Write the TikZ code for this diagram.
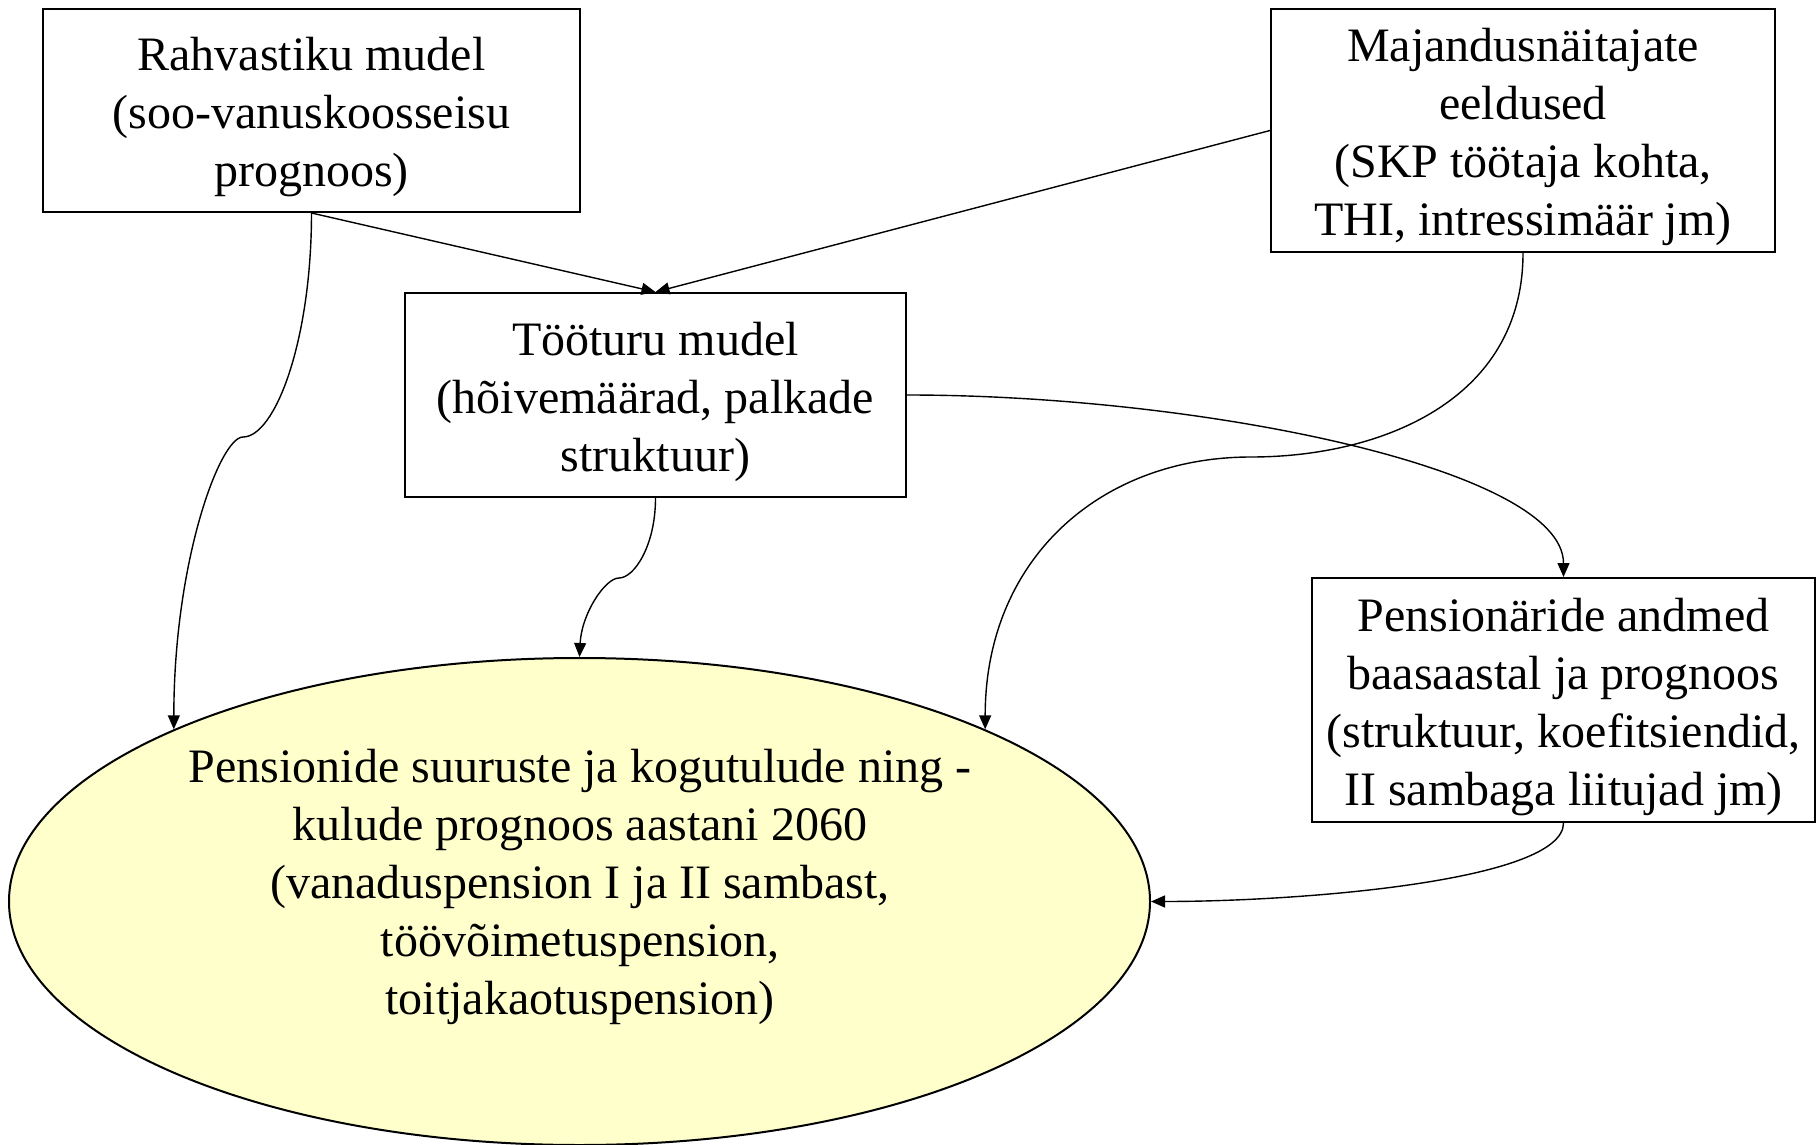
\documentclass[tikz,border=0pt]{standalone}
\usepackage{fontspec}
\setmainfont{Liberation Serif}
\usetikzlibrary{arrows.meta,shapes.geometric}
\definecolor{paleyellow}{RGB}{255,255,204}
\newcommand{\topstrut}{\rule{0pt}{23.5pt}}

\begin{document}
\begin{tikzpicture}[x=.5pt, y=-.5pt, line cap=round,
  box/.style={draw, line width=1pt, align=center, inner sep=0pt,
    font=\fontsize{24}{29}\selectfont},
  link/.style={-{Triangle[length=7pt,width=6pt]}, line width=.7pt}]

\useasboundingbox (0,0) rectangle (1816,1145);

% --- input models ---
\node[box, minimum width=268.5pt, minimum height=101.5pt] (rahv) at (311.5,110.5)
  {\topstrut Rahvastiku mudel\\(soo-vanuskoosseisu\\prognoos)};
\node[box, minimum width=252pt, minimum height=121.5pt] (maj) at (1523,130.5)
  {\topstrut Majandusnäitajate\\eeldused\\(SKP töötaja kohta,\\THI, intressimäär jm)};
\node[box, minimum width=250.5pt, minimum height=102pt] (too) at (655.5,395)
  {\topstrut Tööturu mudel\\(hõivemäärad, palkade\\struktuur)};
\node[box, minimum width=251.5pt, minimum height=122pt] (pensd) at (1563.5,700)
  {\topstrut Pensionäride andmed\\baasaastal ja prognoos\\(struktuur, koefitsiendid,\\II sambaga liitujad jm)};

% --- result ---
\node[draw, ellipse, line width=1pt, fill=paleyellow, inner sep=0pt,
  minimum width=570.5pt, minimum height=243.5pt] (pens) at (579.5,901.5) {};
\node[align=center, font=\fontsize{24}{29}\selectfont] (penstext) at (580,887)
  {Pensionide suuruste ja kogutulude ning -\\kulude prognoos aastani 2060\\(vanaduspension I ja II sambast,\\töövõimetuspension,\\toitjakaotuspension)};

% --- bend points of the curved links ---
\coordinate (k1) at (243,437);
\coordinate (k2) at (619,578);
\coordinate (k3) at (1251,457);

% --- links ---
\draw[link] (rahv.south) -- (too.north);
\draw[link] (maj.west) -- (too.north);
\draw[link] (rahv.south) .. controls +(0,128) and +(32,0) .. (k1)
  .. controls +(-23,0) and +(0,-168) .. (pens.157);
\draw[link] (too.south) .. controls +(0,48) and +(15,0) .. (k2)
  .. controls +(-14,0) and +(2,-43) .. (pens.north);
\draw[link] (maj.south) .. controls +(0,148) and +(129,0) .. (k3)
  .. controls +(-151,0) and +(0,-170) .. (pens.23);
\draw[link] (too.east) .. controls +(294,0) and +(0,-108) .. (pensd.north);
\draw[link] (pensd.south) .. controls +(0,58) and +(150,0) .. (pens.east);

\end{tikzpicture}
\end{document}
